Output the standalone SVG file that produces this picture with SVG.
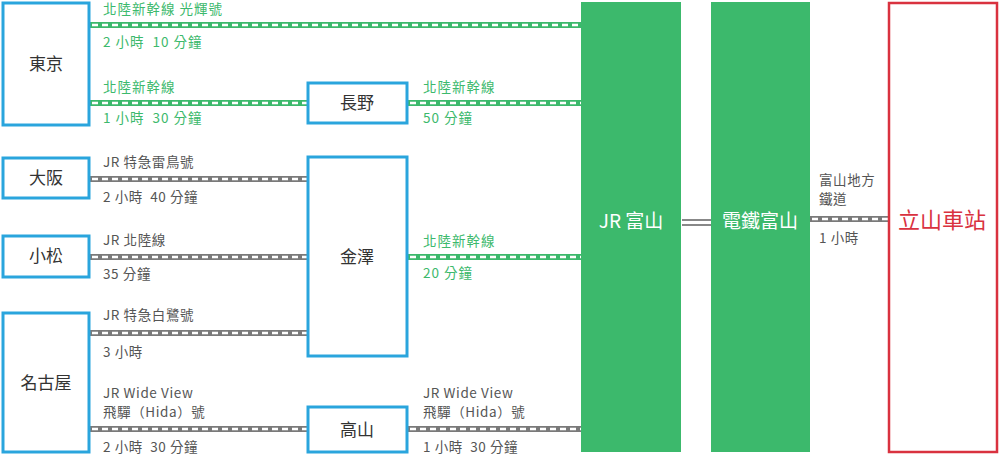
<svg xmlns="http://www.w3.org/2000/svg" width="1000" height="455" viewBox="0 0 1000 455">
<style>
.box{fill:#fff;stroke:#2aa5dd;stroke-width:3}
.big{fill:#3cb96c}
.red{fill:#fff;stroke:#d9323f;stroke-width:2.5}
.node{font-family:"Noto Sans CJK TC","Noto Sans",sans-serif;font-size:17px;fill:#333;text-anchor:middle}
.bigt{font-family:"Noto Sans CJK TC","Noto Sans",sans-serif;font-size:19px;fill:#fff;text-anchor:middle}
.redt{font-family:"Noto Sans CJK TC","Noto Sans",sans-serif;font-size:22px;fill:#d9323f;text-anchor:middle}
.g{font-family:"Noto Sans CJK TC","Noto Sans",sans-serif;font-size:13.5px;letter-spacing:1px;fill:#3cb96c}
.k{font-family:"Noto Sans CJK TC","Noto Sans",sans-serif;font-size:13.5px;letter-spacing:0.6px;fill:#555}
.gl{stroke:#3cb96c;stroke-width:6;fill:none}
.kl{stroke:#7a7a7a;stroke-width:6;fill:none}
.dash{stroke:#fff;stroke-width:2.5;stroke-dasharray:6 4;fill:none}
.dbl{stroke:#888;stroke-width:2;fill:none}
</style>
<g id="connectors">
<path class="gl" d="M90 25H581M90 103H308M408 103H581M408 257H581"/>
<path class="dash" d="M92 25H581M92 103H308M410 103H581M410 257H581"/>
<path class="kl" d="M90 179H308M90 257H308M90 333H308M90 429H308M408 429H581M810 219H888"/>
<path class="dash" d="M92 179H308M92 257H308M92 333H308M92 429H308M410 429H581M812 219H888"/>
<path class="dbl" d="M682 220H711M682 225H711"/>
</g>
<g id="labels">
<text class="g" x="103" y="14">北陸新幹線 光輝號</text>
<text class="g" x="103" y="47">2 小時&#160; 10 分鐘</text>
<text class="g" x="103" y="92">北陸新幹線</text>
<text class="g" x="103" y="123">1 小時&#160; 30 分鐘</text>
<text class="g" x="423" y="92">北陸新幹線</text>
<text class="g" x="423" y="123">50 分鐘</text>
<text class="g" x="423" y="246">北陸新幹線</text>
<text class="g" x="423" y="278">20 分鐘</text>
<text class="k" x="103" y="167">JR 特急雷鳥號</text>
<text class="k" x="103" y="202">2 小時&#160; 40 分鐘</text>
<text class="k" x="103" y="245">JR 北陸線</text>
<text class="k" x="103" y="279">35 分鐘</text>
<text class="k" x="103" y="320">JR 特急白鷺號</text>
<text class="k" x="103" y="357">3 小時</text>
<text class="k" x="103" y="398">JR Wide View</text>
<text class="k" x="103" y="417">飛驒（Hida）號</text>
<text class="k" x="103" y="452">2 小時&#160; 30 分鐘</text>
<text class="k" x="423" y="398">JR Wide View</text>
<text class="k" x="423" y="417">飛驒（Hida）號</text>
<text class="k" x="423" y="452">1 小時&#160; 30 分鐘</text>
<text class="k" x="819" y="185">富山地方</text>
<text class="k" x="819" y="204">鐵道</text>
<text class="k" x="819" y="243">1 小時</text>
</g>
<g id="tokyo"><rect class="box" x="3" y="3" width="86" height="122"/><text class="node" x="46" y="70">東京</text></g>
<g id="nagano"><rect class="box" x="308" y="83" width="99" height="40"/><text class="node" x="357" y="109">長野</text></g>
<g id="osaka"><rect class="box" x="3" y="158" width="86" height="40"/><text class="node" x="46" y="184">大阪</text></g>
<g id="komatsu"><rect class="box" x="3" y="236" width="86" height="41"/><text class="node" x="46" y="262">小松</text></g>
<g id="nagoya"><rect class="box" x="3" y="313" width="86" height="139"/><text class="node" x="46" y="389">名古屋</text></g>
<g id="kanazawa"><rect class="box" x="308" y="157" width="99" height="199"/><text class="node" x="357" y="263">金澤</text></g>
<g id="takayama"><rect class="box" x="308" y="407" width="99" height="45"/><text class="node" x="357" y="436">高山</text></g>
<g id="jr-toyama"><rect class="big" x="581" y="2" width="100" height="450"/><text class="bigt" x="631" y="228">JR 富山</text></g>
<g id="dentetsu-toyama"><rect class="big" x="711" y="2" width="99" height="450"/><text class="bigt" x="760" y="228">電鐵富山</text></g>
<g id="tateyama"><rect class="red" x="889" y="3" width="108" height="449"/><text class="redt" x="942" y="228">立山車站</text></g>
</svg>
